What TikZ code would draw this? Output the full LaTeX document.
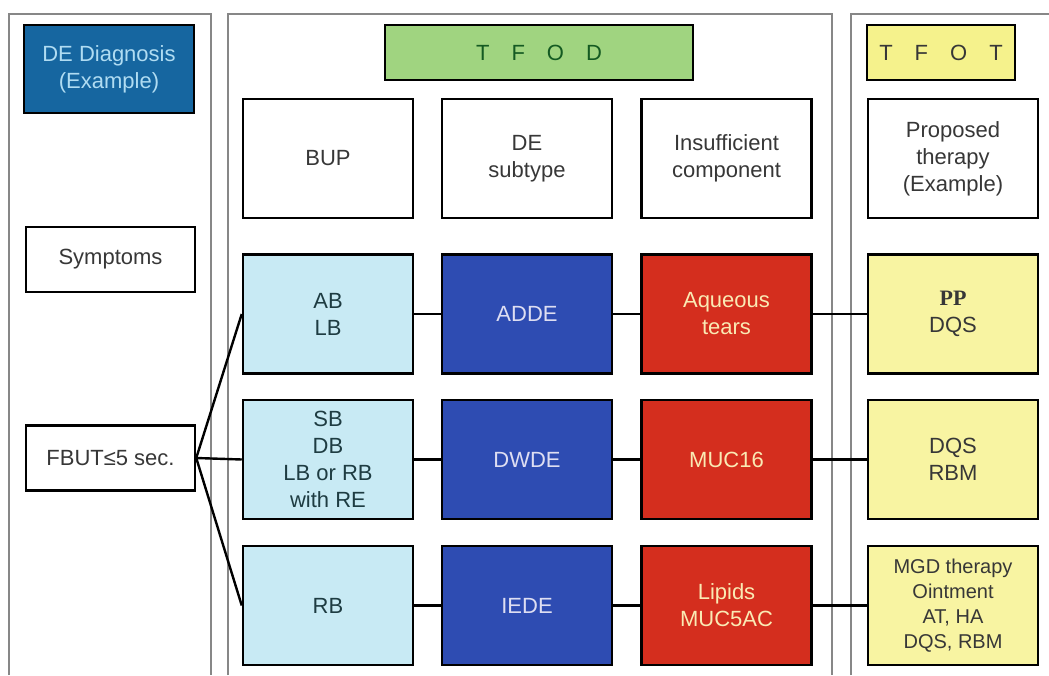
\documentclass[tikz,border=0pt]{standalone}
\usepackage{fontspec}
\setmainfont{Liberation Sans}
\newfontfamily\ppserif{Liberation Serif}
\definecolor{panelgray}{RGB}{135,135,135}
\definecolor{diagfill}{RGB}{22,102,160}
\definecolor{diagtext}{RGB}{176,220,242}
\definecolor{tfodfill}{RGB}{160,212,128}
\definecolor{tfodtext}{RGB}{20,90,34}
\definecolor{tfotfill}{RGB}{245,242,140}
\definecolor{lbfill}{RGB}{200,234,244}
\definecolor{lbtext}{RGB}{30,60,66}
\definecolor{bluefill}{RGB}{46,76,178}
\definecolor{bluetext}{RGB}{222,222,242}
\definecolor{redfill}{RGB}{212,46,30}
\definecolor{redtext}{RGB}{250,234,180}
\definecolor{yelfill}{RGB}{248,244,162}
\definecolor{darktext}{RGB}{55,55,55}
\tikzset{
  box/.style={draw=black, line width=2.5pt, rectangle, align=center, inner sep=2pt,
    font=\fontsize{22}{27}\selectfont, text=darktext},
  colbox/.style={box, minimum width=170pt, minimum height=119pt},
  hdrbox/.style={colbox, fill=white},
  lbbox/.style={colbox, fill=lbfill, text=lbtext},
  bluebox/.style={colbox, fill=bluefill, text=bluetext},
  redbox/.style={colbox, fill=redfill, text=redtext},
  yelbox/.style={colbox, fill=yelfill, text=darktext},
  leftbox/.style={box, minimum width=169pt, minimum height=65pt, fill=white},
  panel/.style={draw=panelgray, line width=1.6pt},
  link/.style={draw=black, line width=2.4pt}
}
\begin{document}
\begin{tikzpicture}[x=1pt,y=-1pt]
\useasboundingbox[fill=white] (0,0) rectangle (1049,675);
% panels
\draw[panel] (9,675) -- (9,14) -- (211,14) -- (211,675);
\draw[panel] (228,675) -- (228,14) -- (832,14) -- (832,675);
\draw[panel] (851,675) -- (851,14) -- (1049,14);
% titles
\node[box, minimum width=170pt, minimum height=88pt, fill=diagfill, text=diagtext] (diag) at (109,69) {DE Diagnosis\\(Example)};
\node[box, minimum width=308pt, minimum height=55pt, fill=tfodfill, text=tfodtext] (tfod) at (539,52.5) {T\quad F\quad O\quad D};
\node[box, minimum width=148pt, minimum height=55pt, fill=tfotfill, text=darktext] (tfot) at (941,52.5) {T\quad F\quad O\quad T};
% left column
\node[leftbox] (sym) at (110.5,259.5) {Symptoms};
\node[leftbox] (fbut) at (110.5,458) {FBUT≤5 sec.};
% headers
\node[hdrbox] (bup) at (328,158.5) {BUP};
\node[hdrbox] (sub) at (527,158.5) {DE\\subtype};
\node[hdrbox] (ins) at (726.5,158.5) {Insufficient\\component};
\node[hdrbox] (prop) at (953,158.5) {Proposed\\therapy\\(Example)};
% row 1
\node[lbbox] (ab) at (328,314) {AB\\LB};
\node[bluebox] (adde) at (527,314) {ADDE};
\node[redbox] (aq) at (726.5,314) {Aqueous\\tears};
\node[yelbox] (pp) at (953,314) {{\ppserif\bfseries PP}\\DQS};
% row 2
\node[lbbox] (sb) at (328,459.5) {SB\\DB\\LB or RB\\with RE};
\node[bluebox] (dwde) at (527,459.5) {DWDE};
\node[redbox] (muc) at (726.5,459.5) {MUC16};
\node[yelbox] (dqs) at (953,459.5) {DQS\\RBM};
% row 3
\node[lbbox] (rb) at (328,605.5) {RB};
\node[bluebox] (iede) at (527,605.5) {IEDE};
\node[redbox] (lip) at (726.5,605.5) {Lipids\\MUC5AC};
\node[yelbox, font=\fontsize{20}{25}\selectfont] (mgd) at (953,605.5) {MGD therapy\\Ointment\\AT, HA\\DQS, RBM};
% connectors
\draw[link] (fbut.east) -- (ab.west);
\draw[link] (fbut.east) -- (sb.west);
\draw[link] (fbut.east) -- (rb.west);
\draw[link] (ab) -- (adde);
\draw[link] (adde) -- (aq);
\draw[link] (aq) -- (pp);
\draw[link] (sb) -- (dwde);
\draw[link] (dwde) -- (muc);
\draw[link] (muc) -- (dqs);
\draw[link] (rb) -- (iede);
\draw[link] (iede) -- (lip);
\draw[link] (lip) -- (mgd);
\end{tikzpicture}
\end{document}
